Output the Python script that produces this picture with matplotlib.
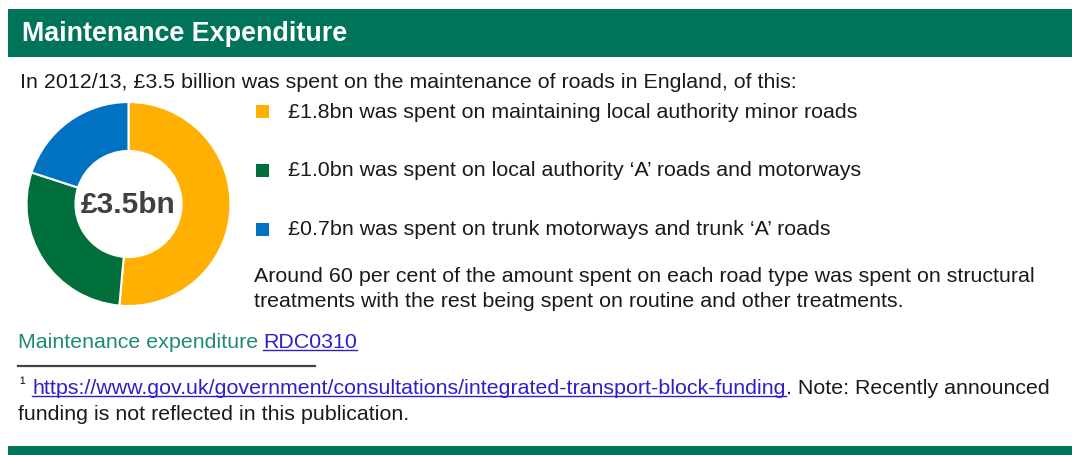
import matplotlib
matplotlib.use("Agg")
import matplotlib.pyplot as plt
from matplotlib.patches import Rectangle

W, H = 1072, 456

title = "Maintenance Expenditure"
intro = "In 2012/13, £3.5 billion was spent on the maintenance of roads in England, of this:"
values = [1.8, 1.0, 0.7]
total_label = "£3.5bn"
labels = ["£1.8bn was spent on maintaining local authority minor roads",
          "£1.0bn was spent on local authority \u2018A\u2019 roads and motorways",
          "£0.7bn was spent on trunk motorways and trunk \u2018A\u2019 roads"]
colors = ["#ffb000", "#006f3b", "#0072c1"]
note_lines = ["Around 60 per cent of the amount spent on each road type was spent on structural",
              "treatments with the rest being spent on routine and other treatments."]
source_text = "Maintenance expenditure "
source_link = "RDC0310"
footnote_url = "https://www.gov.uk/government/consultations/integrated-transport-block-funding"
footnote_rest = ". Note: Recently announced"
footnote_line2 = "funding is not reflected in this publication."

GREEN = "#00735b"
TEXT = "#1a1a1a"
LINK = "#2a22c8"
FS = 15.4

plt.rcParams['font.family'] = ['Liberation Sans', 'DejaVu Sans']

fig = plt.figure(figsize=(W / 100, H / 100), dpi=100)
fig.patch.set_facecolor("white")


def fx(x):
    return x / W


def fy(y):
    return 1 - y / H


def txt(x, y, s, **kw):
    kw.setdefault("color", TEXT)
    kw.setdefault("fontsize", FS)
    return fig.text(fx(x), fy(y), s, va="center", ha="left", **kw)


def underline(t, color):
    r = fig.canvas.get_renderer()
    bb = t.get_window_extent(r)
    y0 = bb.y0 + 2
    fig.add_artist(plt.Line2D([bb.x0 / W, bb.x1 / W], [y0 / H, y0 / H],
                              color=color, lw=1.0, transform=fig.transFigure))
    return bb


# header bar
fig.add_artist(Rectangle((fx(8), fy(58)), fx(W - 8), 48 / H, transform=fig.transFigure,
                         facecolor=GREEN, edgecolor="none"))
txt(22, 34, title, color="white", fontsize=19.4, fontweight="bold")

txt(20, 82, intro)

# donut
ax = fig.add_axes([25.5 / W, 148 / H, 206 / W, 206 / H])
ax.pie(values, colors=colors, startangle=90, counterclock=False, radius=1,
       wedgeprops=dict(width=0.48, edgecolor="white", linewidth=1.5))
ax.set_xlim(-1.01, 1.01)
ax.set_ylim(-1.01, 1.01)
ax.set_aspect("equal")
ax.axis("off")
ax.text(0, 0.0, total_label, ha="center", va="center", fontsize=21.5,
        fontweight="bold", color="#404040")

# legend
for i, (lab, c) in enumerate(zip(labels, colors)):
    yc = 112 + i * 59
    fig.add_artist(Rectangle((fx(256), fy(yc + 6.5)), 13 / W, 13 / H,
                             transform=fig.transFigure, facecolor=c, edgecolor="none"))
    txt(288, yc, lab)

txt(254, 277, note_lines[0])
txt(254, 302, note_lines[1])

# source
txt(18, 343, source_text, color="#1d8a78")
t = txt(263, 343, source_link, color=LINK)
fig.canvas.draw()
underline(t, LINK)

fig.add_artist(plt.Line2D([fx(18), fx(315)], [fy(367), fy(367)], color="#444444",
                          lw=1.6, transform=fig.transFigure))

# footnote
txt(19, 385, "\u00b9", fontsize=12)
t = txt(32, 389, footnote_url, color=LINK)
fig.canvas.draw()
bb = underline(t, LINK)
fig.text(bb.x1 / W, fy(389), footnote_rest, va="center", ha="left", fontsize=FS, color=TEXT)
txt(18, 415, footnote_line2)

# bottom bar
fig.add_artist(Rectangle((fx(8), 0), fx(W - 8), 9 / H, transform=fig.transFigure,
                         facecolor=GREEN, edgecolor="none"))

fig.savefig("out.png", dpi=100, facecolor="white")
